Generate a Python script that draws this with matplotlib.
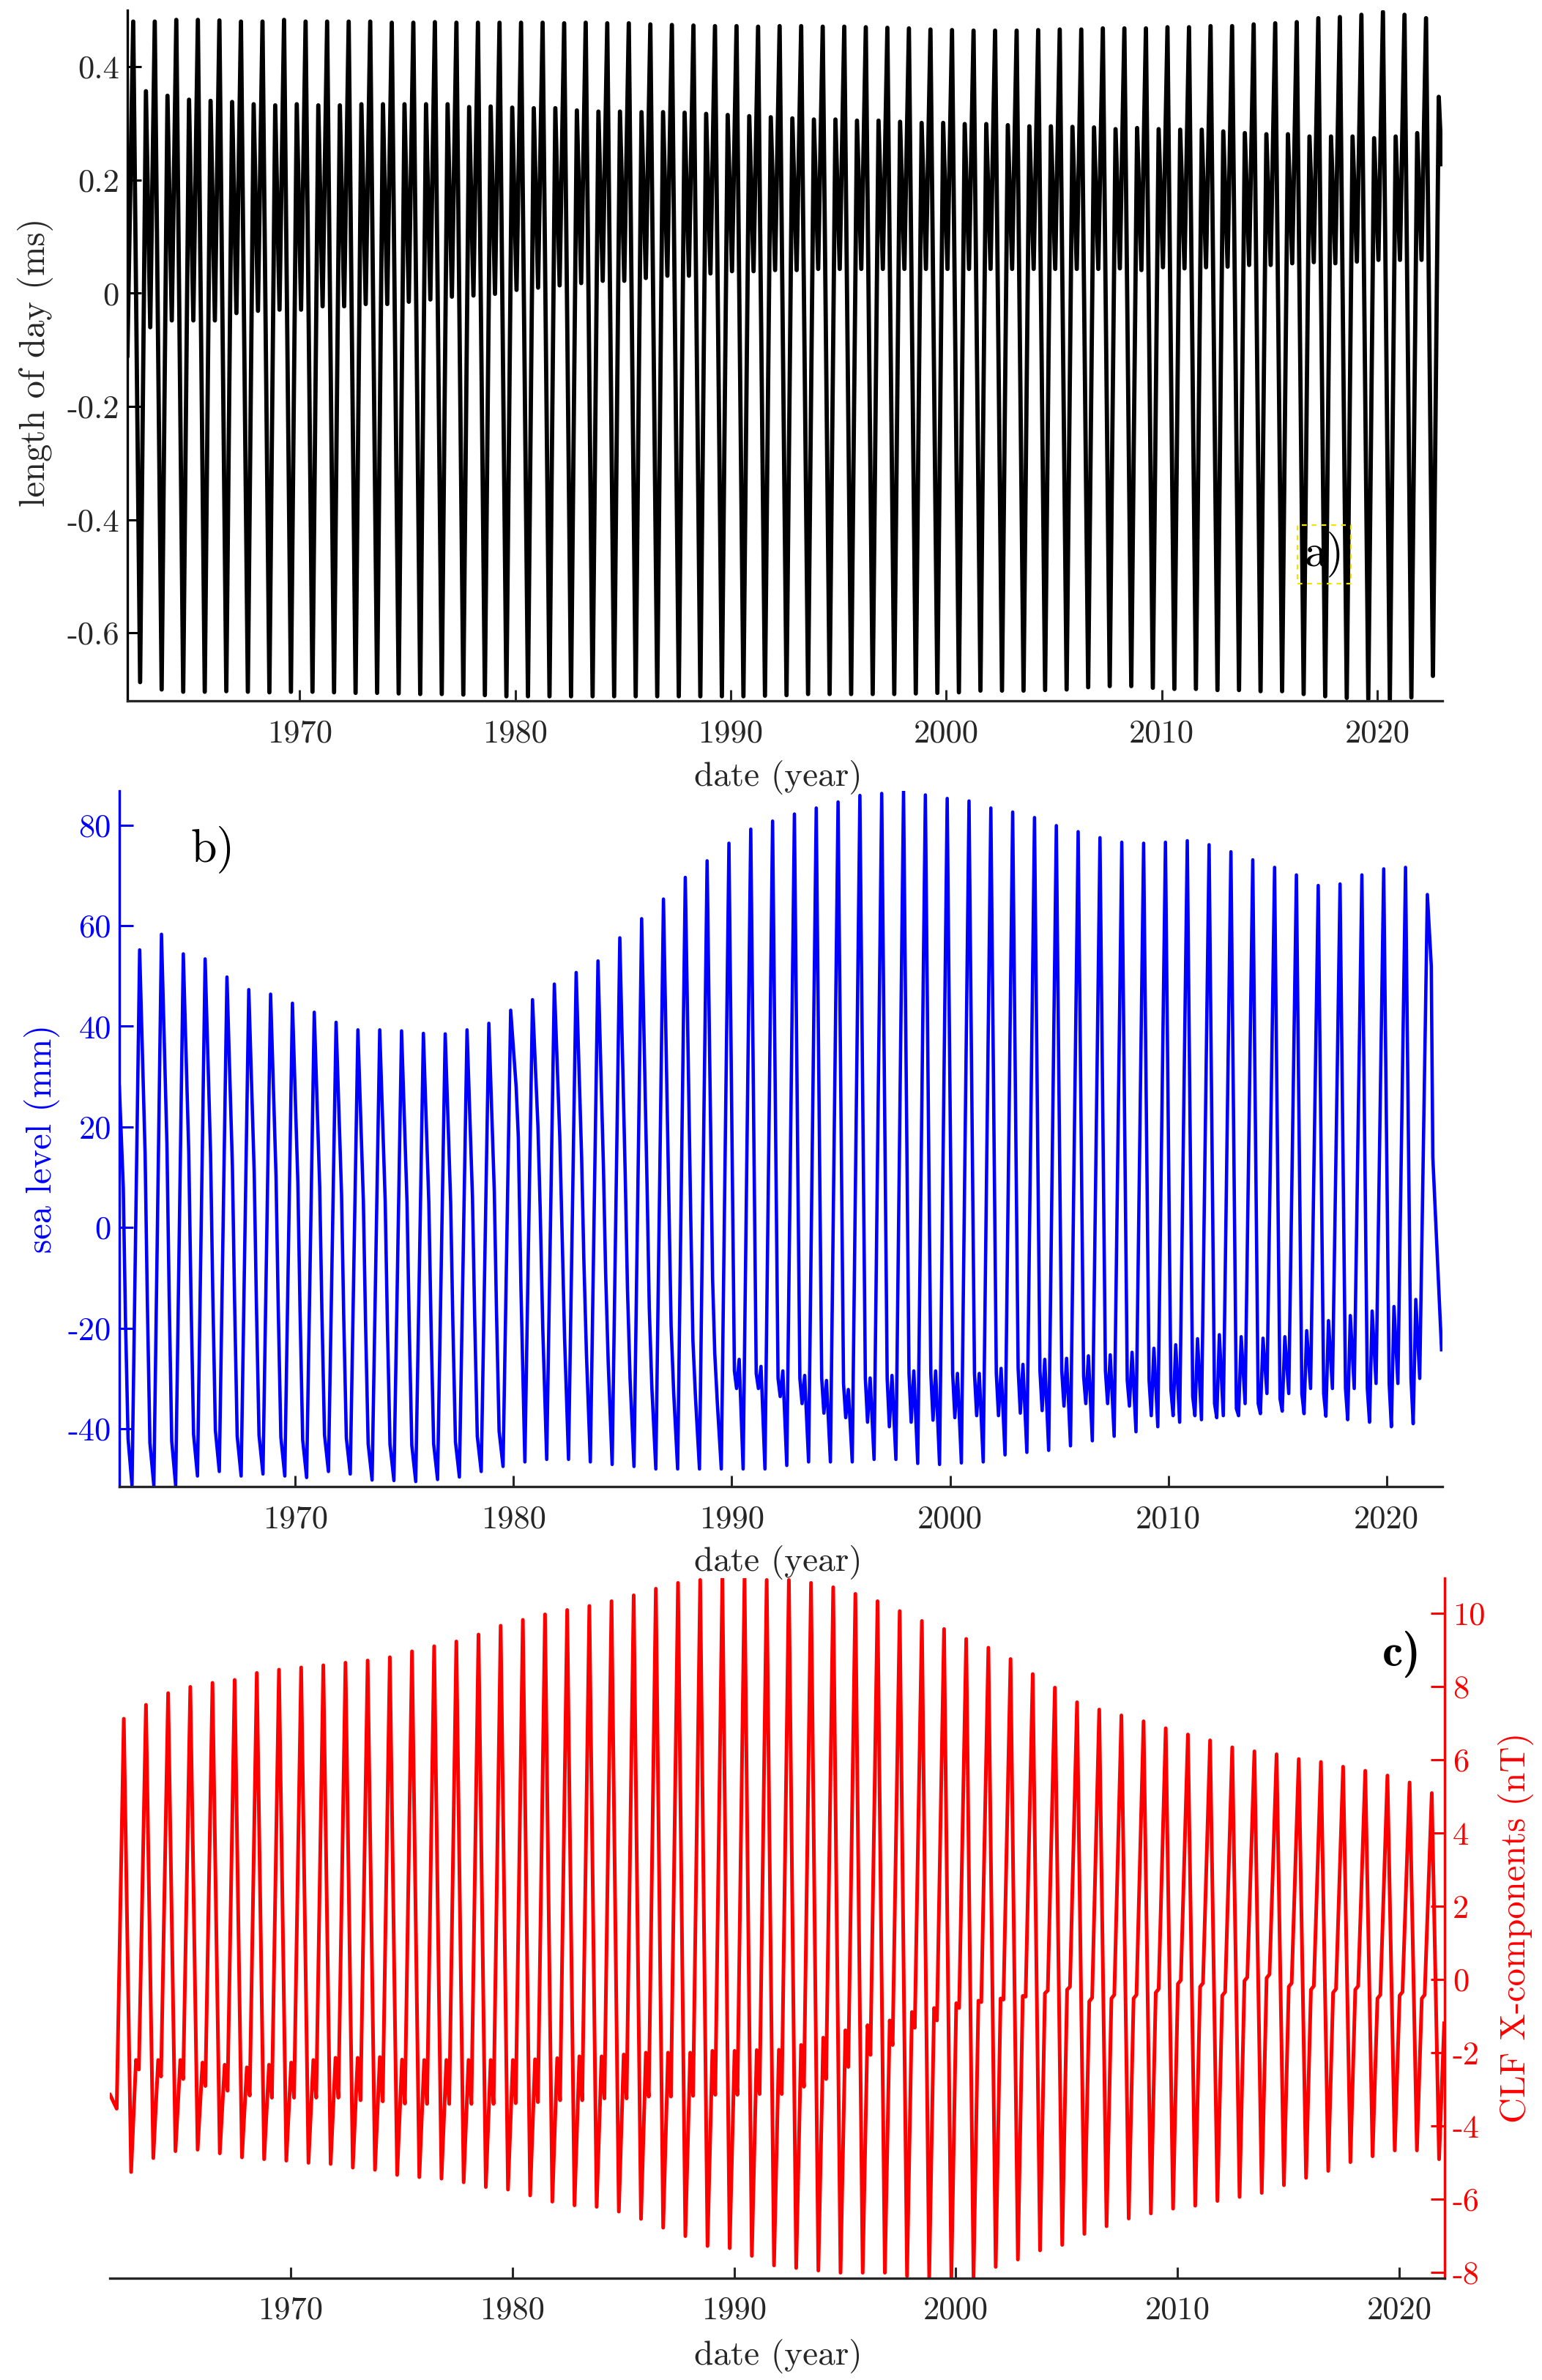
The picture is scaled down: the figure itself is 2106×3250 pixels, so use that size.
import numpy as np
import matplotlib
matplotlib.use('Agg')
from matplotlib import pyplot as plt

plt.rcParams['font.family'] = 'cmr10'
plt.rcParams['mathtext.fontset'] = 'cm'
plt.rcParams['axes.unicode_minus'] = False

# ---- a) length of day (ms), extrema read per calendar year 1962..2022
lod_years = list(range(1962, 2023))
lod_phase = [0.06, 0.27, 0.59, 0.86]  # jan dip, apr max, aug min, nov max
lod_start, lod_end = -0.11, 0.228
lod_apr = [0.480, 0.480, 0.483, 0.483, 0.482, 0.480, 0.480, 0.483, 0.480, 0.480,
           0.480, 0.480, 0.478, 0.478, 0.479, 0.478, 0.478, 0.478, 0.478, 0.478,
           0.477, 0.478, 0.477, 0.477, 0.475, 0.474, 0.473, 0.472, 0.472, 0.471,
           0.472, 0.472, 0.471, 0.471, 0.470, 0.469, 0.468, 0.466, 0.465, 0.464,
           0.464, 0.464, 0.465, 0.466, 0.466, 0.468, 0.468, 0.468, 0.470, 0.470,
           0.472, 0.472, 0.475, 0.477, 0.479, 0.486, 0.488, 0.492, 0.497, 0.492,
           0.486]
lod_aug = [-0.687, -0.700, -0.704, -0.704, -0.703, -0.704, -0.705, -0.704, -0.704, -0.705,
           -0.706, -0.706, -0.707, -0.708, -0.708, -0.709, -0.710, -0.712, -0.712, -0.712,
           -0.712, -0.712, -0.712, -0.712, -0.712, -0.712, -0.712, -0.712, -0.712, -0.711,
           -0.710, -0.708, -0.708, -0.708, -0.708, -0.708, -0.707, -0.706, -0.705, -0.702,
           -0.702, -0.702, -0.701, -0.700, -0.696, -0.694, -0.694, -0.697, -0.699, -0.699,
           -0.701, -0.701, -0.703, -0.703, -0.708, -0.712, -0.715, -0.717, -0.718, -0.714,
           -0.676]
lod_nov = [0.357, 0.349, 0.342, 0.340, 0.338, 0.334, 0.332, 0.334, 0.332, 0.332,
           0.334, 0.334, 0.334, 0.334, 0.334, 0.329, 0.330, 0.328, 0.327, 0.327,
           0.323, 0.321, 0.321, 0.320, 0.320, 0.319, 0.317, 0.315, 0.313, 0.311,
           0.309, 0.307, 0.307, 0.305, 0.305, 0.303, 0.301, 0.301, 0.299, 0.299,
           0.297, 0.295, 0.295, 0.294, 0.293, 0.290, 0.292, 0.290, 0.289, 0.289,
           0.286, 0.283, 0.281, 0.281, 0.277, 0.277, 0.277, 0.274, 0.277, 0.283,
           0.347]
# january dip, 1963..2022
lod_jan = [-0.060, -0.048, -0.048, -0.048, -0.035, -0.031, -0.029, -0.029, -0.023, -0.023,
           -0.019, -0.019, -0.015, -0.011, -0.006, -0.004, -0.001, 0.006, 0.010, 0.014,
           0.018, 0.022, 0.022, 0.027, 0.031, 0.031, 0.035, 0.039, 0.039, 0.041,
           0.041, 0.043, 0.043, 0.043, 0.043, 0.043, 0.043, 0.043, 0.043, 0.043,
           0.043, 0.043, 0.043, 0.043, 0.043, 0.044, 0.041, 0.046, 0.044, 0.046,
           0.047, 0.050, 0.050, 0.053, 0.055, 0.053, 0.056, 0.059, 0.059, 0.059]
lod_ticks = [-0.6, -0.4, -0.2, 0, 0.2, 0.4]
lod_labels = ['-0.6', '-0.4', '-0.2', '0', '0.2', '0.4']

# ---- b) sea level (mm), per calendar year 1962..2021
sl_years = list(range(1962, 2022))
sl_phase = [0.12, 0.22, 0.34, 0.52, 0.87]  # feb, mar, may, jul low, nov high
sl_start = (1961.94, 28.0)
sl_tail_t = [2022.05, 2022.12, 2022.52]
sl_tail_v = [52.0, 14.0, -24.3]
sl_feb = [8.0, 14.7, 16.6, 15.0, 14.7, 12.1, 10.7, 10.0, 8.8, 8.1,
          6.7, 5.3, 5.3, 5.1, 4.9, 5.0, 5.9, 7.1, 28.0, 20.0,
          18.0, 14.0, 12.0, 10.0, 8.0, 5.0, 2.0, -10.0, -28.5, -29.0,
          -30.0, -30.0, -30.0, -31.0, -30.0, -30.0, -29.0, -29.0, -29.0, -29.0,
          -29.0, -28.0, -28.5, -28.5, -29.5, -28.5, -30.4, -30.4, -32.2, -33.6,
          -35.0, -36.0, -35.0, -34.0, -33.0, -33.0, -32.0, -32.0, -31.0, -30.0]
sl_mar = [-18.0, -14.0, -12.9, -13.1, -12.8, -14.7, -15.3, -15.9, -16.7, -16.5,
          -17.6, -18.9, -18.9, -19.1, -19.1, -18.8, -17.8, -16.7, 18.0, 4.0,
          0.0, -6.0, -9.0, -12.0, -16.0, -19.5, -22.5, -25.0, -32.0, -32.0,
          -33.6, -35.0, -36.9, -37.8, -38.7, -39.6, -38.7, -38.3, -37.8, -37.4,
          -37.4, -36.9, -36.4, -35.5, -35.0, -35.0, -35.5, -37.4, -37.4, -37.4,
          -37.8, -37.4, -37.0, -36.5, -37.0, -37.5, -38.2, -38.7, -39.6, -39.0]
sl_may = [-42.0, -42.8, -42.5, -41.1, -40.3, -41.5, -41.3, -41.7, -42.2, -41.2,
          -41.8, -43.0, -43.1, -43.3, -43.0, -42.6, -41.5, -40.5, -12.0, -20.0,
          -22.0, -25.0, -27.0, -30.0, -32.0, -33.0, -34.0, -35.0, -26.2, -27.6,
          -28.5, -29.4, -30.4, -32.2, -29.9, -29.4, -28.5, -28.5, -29.0, -29.0,
          -28.0, -27.2, -26.2, -26.0, -25.5, -25.3, -24.8, -24.0, -23.3, -22.1,
          -21.3, -21.7, -22.0, -21.7, -20.5, -18.5, -17.5, -16.6, -15.7, -14.3]
sl_jul = [-51.3, -51.3, -51.3, -49.4, -48.5, -49.4, -49.0, -49.4, -49.7, -48.5,
          -49.0, -50.2, -50.3, -50.5, -50.1, -49.6, -48.5, -47.5, -46.6, -46.1,
          -46.1, -46.6, -47.1, -47.5, -48.0, -48.0, -48.0, -48.0, -48.0, -48.0,
          -47.3, -46.6, -46.6, -46.6, -46.1, -46.1, -46.9, -47.1, -46.8, -46.6,
          -45.2, -44.7, -44.3, -43.4, -42.4, -41.5, -40.6, -39.6, -38.7, -38.2,
          -37.4, -35.0, -33.0, -33.0, -32.0, -32.0, -32.0, -31.0, -31.0, -30.0]
sl_nov = [55.2, 58.3, 54.4, 53.4, 49.8, 47.3, 46.4, 44.6, 42.8, 40.8,
          39.3, 39.3, 39.1, 38.6, 38.5, 39.3, 40.6, 43.2, 45.3, 48.4,
          50.7, 53.0, 57.6, 61.4, 65.3, 69.6, 72.9, 76.4, 79.2, 80.8,
          82.2, 83.4, 84.6, 85.9, 86.3, 86.8, 86.0, 85.3, 84.8, 83.4,
          82.6, 81.5, 79.9, 78.7, 77.5, 76.6, 76.4, 76.6, 76.9, 76.1,
          74.7, 73.1, 71.6, 70.1, 68.0, 68.3, 70.1, 71.3, 71.6, 66.2]
sl_ticks = [-40, -20, 0, 20, 40, 60, 80]

# ---- c) CLF X-components (nT), per calendar year 1962..2021
clf_years = list(range(1962, 2022))
clf_phase = [0.02, 0.15, 0.47, 0.80]  # jan shoulder, feb dip, jun max, oct min
clf_start = (1961.85, -3.15)
clf_end = (2022.03, -1.2)
clf_jun = [7.12, 7.50, 7.82, 7.99, 8.10, 8.18, 8.37, 8.46, 8.52, 8.58,
           8.65, 8.71, 8.80, 8.96, 9.10, 9.23, 9.42, 9.66, 9.82, 9.97,
           10.09, 10.20, 10.33, 10.49, 10.67, 10.83, 10.91, 10.96, 10.96, 10.91,
           10.91, 10.83, 10.71, 10.53, 10.33, 10.06, 9.79, 9.57, 9.30, 9.06,
           8.75, 8.34, 7.97, 7.57, 7.37, 7.21, 7.05, 6.86, 6.69, 6.53,
           6.34, 6.23, 6.15, 6.02, 5.94, 5.81, 5.70, 5.57, 5.38, 5.09]
clf_oct = [-5.26, -4.88, -4.69, -4.65, -4.75, -4.86, -4.91, -4.95, -5.01, -5.04,
           -5.14, -5.20, -5.34, -5.40, -5.44, -5.54, -5.67, -5.74, -5.90, -6.07,
           -6.17, -6.21, -6.34, -6.54, -6.78, -7.01, -7.28, -7.34, -7.55, -7.81,
           -7.88, -7.95, -8.01, -8.01, -8.01, -8.10, -8.14, -8.14, -8.14, -7.85,
           -7.65, -7.40, -7.25, -6.95, -6.74, -6.53, -6.39, -6.26, -6.18, -6.05,
           -5.94, -5.83, -5.62, -5.42, -5.23, -4.99, -4.83, -4.67, -4.67, -4.91]
# january shoulder, 1963..2021
clf_jan = [-2.20, -2.20, -2.20, -2.27, -2.33, -2.40, -2.33, -2.27, -2.20, -2.14,
           -2.14, -2.12, -2.19, -2.20, -2.20, -2.20, -2.20, -2.20, -2.18, -2.15,
           -2.10, -2.10, -2.05, -2.00, -2.00, -2.00, -1.95, -1.95, -1.93, -1.92,
           -1.79, -1.59, -1.39, -1.25, -1.12, -0.89, -0.78, -0.65, -0.58, -0.52,
           -0.45, -0.38, -0.28, -0.60, -0.52, -0.52, -0.36, -0.12, -0.20, -0.44,
           -0.04, 0.04, -0.20, -0.28, -0.36, -0.28, -0.52, -0.44, -0.52]
clf_feb = [-3.53, -2.46, -2.65, -2.72, -2.91, -3.04, -3.17, -3.23, -3.23, -3.23,
           -3.23, -3.30, -3.33, -3.39, -3.40, -3.40, -3.40, -3.40, -3.38, -3.35,
           -3.30, -3.30, -3.25, -3.25, -3.20, -3.20, -3.18, -3.15, -3.15, -3.13,
           -3.13, -2.93, -2.72, -2.39, -2.06, -1.79, -1.32, -1.12, -0.78, -0.62,
           -0.55, -0.47, -0.30, -0.20, -0.50, -0.42, -0.42, -0.26, -0.02, -0.10,
           -0.34, 0.06, 0.14, -0.10, -0.18, -0.26, -0.18, -0.42, -0.34, -0.42]
clf_ticks = [-8, -6, -4, -2, 0, 2, 4, 6, 8, 10]

year_ticks = [1970, 1980, 1990, 2000, 2010, 2020]


def lod_series():
    t, v = [1962.0], [lod_start]
    for i, y in enumerate(lod_years):
        if i > 0:
            t.append(y + lod_phase[0]); v.append(lod_jan[i - 1])
        t += [y + lod_phase[1], y + lod_phase[2], y + lod_phase[3]]
        v += [lod_apr[i], lod_aug[i], lod_nov[i]]
    t.append(2023.0); v.append(lod_end)
    return np.array(t), np.array(v)


def sl_series():
    t, v = [sl_start[0]], [sl_start[1]]
    for i, y in enumerate(sl_years):
        t += [y + p for p in sl_phase]
        v += [sl_feb[i], sl_mar[i], sl_may[i], sl_jul[i], sl_nov[i]]
    t += sl_tail_t; v += sl_tail_v
    return np.array(t), np.array(v)


def clf_series():
    t, v = [clf_start[0]], [clf_start[1]]
    for i, y in enumerate(clf_years):
        if i > 0:
            t.append(y + clf_phase[0]); v.append(clf_jan[i - 1])
        t += [y + clf_phase[1], y + clf_phase[2], y + clf_phase[3]]
        v += [clf_feb[i], clf_jun[i], clf_oct[i]]
    t.append(clf_end[0]); v.append(clf_end[1])
    return np.array(t), np.array(v)


def style(ax, color, side, xpad):
    ax.patch.set_visible(False)
    for s in ax.spines.values():
        s.set_visible(False)
    ax.spines['bottom'].set_visible(True)
    ax.spines['bottom'].set_color('#262626')
    ax.spines['bottom'].set_linewidth(2.4)
    ax.spines[side].set_visible(True)
    ax.spines[side].set_color(color)
    ax.spines[side].set_linewidth(2.4)
    ax.tick_params(axis='x', direction='in', length=11, width=2.2,
                   colors='#262626', labelsize=32, pad=xpad)
    ax.tick_params(axis='y', direction='in', length=14, width=2.2,
                   labelsize=32, pad=8, color=color,
                   labelcolor=color if color != 'black' else '#262626')
    if side == 'right':
        ax.yaxis.tick_right()
        ax.yaxis.set_label_position('right')
    ax.set_xticks(year_ticks, [str(y) for y in year_ticks])
    ax.set_xlabel('date (year)', fontsize=34, color='#262626')


fig = plt.figure(figsize=(21.06, 32.5), dpi=100)

# a)
ax1 = fig.add_axes([0.08262, 0.70554, 0.85280, 0.29015])
t, v = lod_series()
ax1.plot(t, v, color='black', lw=4.2)
ax1.set_xlim(1962.0, 2023.03)
ax1.set_ylim(-0.72, 0.5)
style(ax1, 'black', 'left', 18)
ax1.set_yticks(lod_ticks, lod_labels)
ax1.set_ylabel('length of day (ms)', fontsize=35, color='#262626')
ax1.yaxis.set_label_coords(-0.056, 0.49)
ax1.xaxis.set_label_coords(0.495, -0.086)
ax1.text(0.910, 0.212, 'a)', transform=ax1.transAxes, ha='center', va='center',
         fontsize=44, bbox=dict(boxstyle='square,pad=0.15', fc='none',
                                ec='#f2e400', ls=(0, (3, 3)), lw=1.6))

# b)
ax2 = fig.add_axes([0.07740, 0.37538, 0.85802, 0.29231])
t, v = sl_series()
ax2.plot(t, v, color='#0000ff', lw=3.3)
ax2.set_xlim(1961.94, 2022.56)
ax2.set_ylim(-51.5, 86.8)
style(ax2, '#0000ff', 'left', 18)
ax2.set_yticks(sl_ticks, [str(s) for s in sl_ticks])
ax2.set_ylabel('sea level (mm)', fontsize=35, color='#0000ff')
ax2.yaxis.set_label_coords(-0.045, 0.5)
ax2.xaxis.set_label_coords(0.498, -0.084)
ax2.text(0.0708, 0.916, 'b)', transform=ax2.transAxes, ha='center', va='center',
         fontsize=46)

# c)
ax3 = fig.add_axes([0.07123, 0.04292, 0.86548, 0.29400])
t, v = clf_series()
ax3.plot(t, v, color='#ff0000', lw=3.6)
ax3.set_xlim(1961.84, 2022.04)
ax3.set_ylim(-8.15, 10.96)
style(ax3, '#ff0000', 'right', 18)
ax3.set_yticks(clf_ticks, [str(c) for c in clf_ticks])
ax3.set_ylabel('CLF X-components (nT)', fontsize=35, color='#ff0000')
ax3.yaxis.set_label_coords(1.040, 0.5)
ax3.xaxis.set_label_coords(0.501, -0.087)
ax3.text(0.968, 0.891, 'c)', transform=ax3.transAxes, ha='center', va='center',
         fontsize=46, family='cmb10')

fig.savefig('out.png', dpi=100)
